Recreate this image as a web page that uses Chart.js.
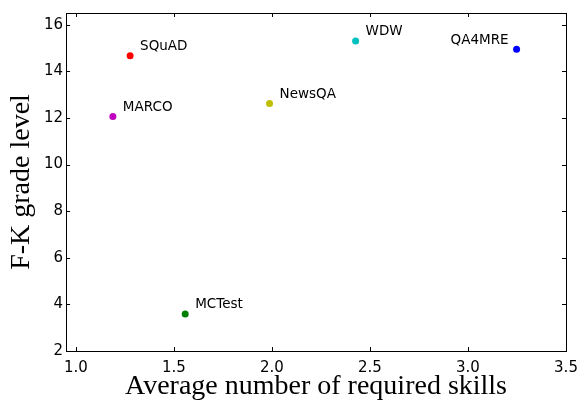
<!DOCTYPE html>
<html>
<head>
<meta charset="utf-8">
<script src="https://cdn.jsdelivr.net/npm/chart.js@4/dist/chart.umd.min.js"></script>
<style>
html,body{margin:0;padding:0;background:#fff;}
#wrap{width:581px;height:401px;}
</style>
</head>
<body>
<div id="wrap"><canvas id="c" width="581" height="401"></canvas></div>
<script>
// ---- data ----
const datasetNames = ["SQuAD", "MARCO", "MCTest", "NewsQA", "WDW", "QA4MRE"];
const avgSkills    = [1.277, 1.189, 1.558, 1.988, 2.427, 3.248];
const fkGrade      = [14.67, 12.06, 3.59, 12.62, 15.30, 14.94];
const pointColors  = ["#ff0000", "#bf00bf", "#008000", "#bfbf00", "#00bfbf", "#0000ff"];
const xTicks = [1.0, 1.5, 2.0, 2.5, 3.0, 3.5];
const yTicks = [2, 4, 6, 8, 10, 12, 14, 16];
const xTitle = "Average number of required skills";
const yTitle = "F-K grade level";

const points = datasetNames.map((n, i) => ({x: avgSkills[i], y: fkGrade[i], name: n}));

const frameAndLabels = {
  id: 'frameAndLabels',
  afterDatasetsDraw(chart, args, opts) {
    const ctx = chart.ctx;
    const a = chart.chartArea;
    const xs = chart.scales.x, ys = chart.scales.y;
    ctx.save();
    ctx.strokeStyle = '#000';
    ctx.lineWidth = 1;
    ctx.strokeRect(Math.round(a.left) + 0.5, Math.round(a.top) + 0.5,
                   Math.round(a.right) - Math.round(a.left), Math.round(a.bottom) - Math.round(a.top));
    const tl = 4;
    ctx.beginPath();
    xs.ticks.forEach(t => {
      const px = Math.round(xs.getPixelForValue(t.value)) + 0.5;
      ctx.moveTo(px, a.bottom); ctx.lineTo(px, a.bottom - tl);
      ctx.moveTo(px, a.top); ctx.lineTo(px, a.top + tl);
    });
    ys.ticks.forEach(t => {
      const py = Math.round(ys.getPixelForValue(t.value)) + 0.5;
      ctx.moveTo(a.left, py); ctx.lineTo(a.left + tl, py);
      ctx.moveTo(a.right, py); ctx.lineTo(a.right - tl, py);
    });
    ctx.stroke();
    ctx.fillStyle = '#000';
    ctx.font = '13.5px "DejaVu Sans"';
    ctx.textBaseline = 'middle';
    const meta = chart.getDatasetMeta(0);
    meta.data.forEach((el, i) => {
      const name = datasetNames[i];
      const leftSide = opts.leftLabels.includes(name);
      ctx.textAlign = leftSide ? 'right' : 'left';
      ctx.fillText(name, el.x + (leftSide ? -8 : 10), el.y - 9);
    });
    ctx.restore();
  }
};

new Chart(document.getElementById('c'), {
  type: 'scatter',
  data: {
    datasets: [{
      data: points,
      pointBackgroundColor: pointColors,
      pointBorderColor: pointColors,
      pointRadius: 3.5,
      pointBorderWidth: 0
    }]
  },
  options: {
    responsive: false,
    animation: false,
    devicePixelRatio: 1,
    layout: {padding: {top: 13, right: 15, left: 0, bottom: 0}},
    plugins: {
      legend: {display: false},
      tooltip: {enabled: false},
      frameAndLabels: {leftLabels: ["QA4MRE"]}
    },
    scales: {
      x: {
        type: 'linear',
        min: 0.95, max: 3.5,
        afterBuildTicks: s => { s.ticks = xTicks.map(v => ({value: v})); },
        afterFit: s => { s.height = 50; s.paddingLeft = 0; s.paddingRight = 0; },
        grid: {display: false, drawTicks: false},
        border: {display: false},
        ticks: {
          color: '#000', padding: 8, maxRotation: 0, autoSkip: false,
          font: {family: 'DejaVu Sans', size: 15},
          callback: v => Number(v).toFixed(1)
        },
        title: {display: true, text: xTitle, color: '#000',
                font: {family: 'Liberation Serif', size: 28, lineHeight: 1},
                padding: {top: 0, bottom: 0}}
      },
      y: {
        type: 'linear',
        min: 2, max: 16.5,
        afterBuildTicks: s => { s.ticks = yTicks.map(v => ({value: v})); },
        afterFit: s => { s.width = 66; s.paddingTop = 0; s.paddingBottom = 0; },
        grid: {display: false, drawTicks: false},
        border: {display: false},
        ticks: {
          color: '#000', padding: 3, autoSkip: false,
          font: {family: 'DejaVu Sans', size: 15},
          callback: v => String(v)
        },
        title: {display: true, text: yTitle, color: '#000',
                font: {family: 'Liberation Serif', size: 28, lineHeight: 1},
                padding: {top: 8, bottom: 0}}
      }
    }
  },
  plugins: [frameAndLabels]
});
</script>
</body>
</html>
